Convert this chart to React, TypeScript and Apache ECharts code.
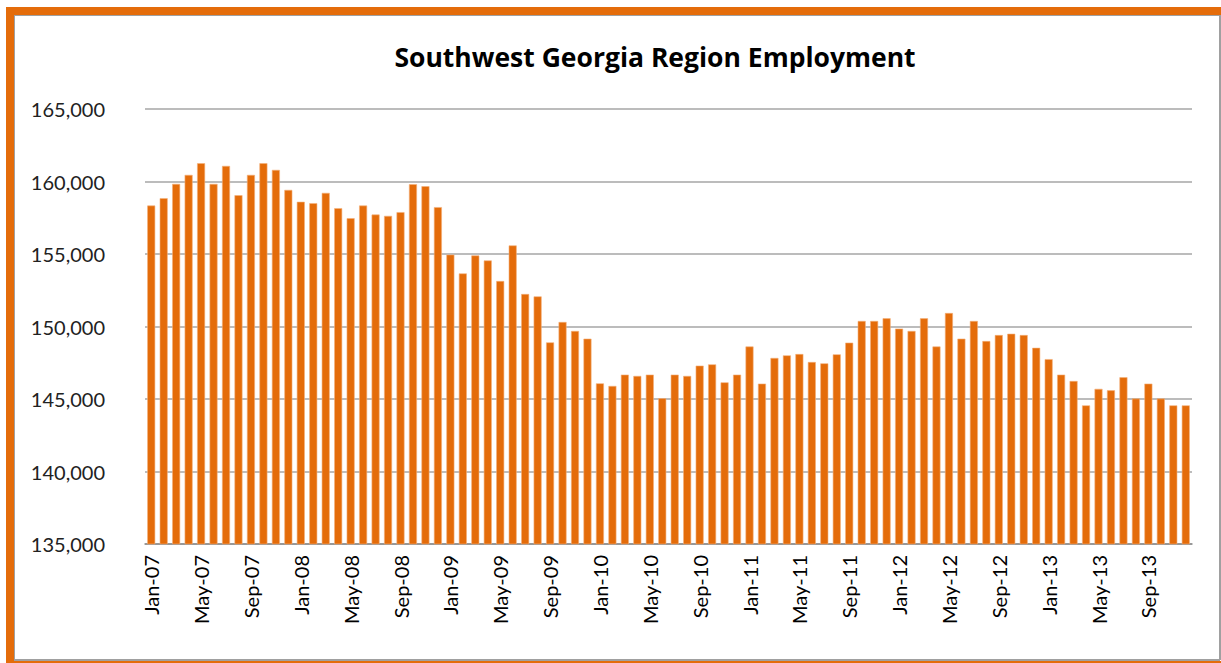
import React, { useEffect, useRef } from "react";
import * as echarts from "echarts";

const years = ["07", "08", "09", "10", "11", "12", "13"];
const monthNames = ["Jan", "Feb", "Mar", "Apr", "May", "Jun", "Jul", "Aug", "Sep", "Oct", "Nov", "Dec"];
const categories: string[] = [];
years.forEach((y) => monthNames.forEach((m) => categories.push(`${m}-${y}`)));

const employment2007 = [158340, 158850, 159835, 160455, 161260, 159835, 161075, 159055, 160455, 161260, 160800, 159420];
const employment2008 = [158600, 158505, 159215, 158160, 157470, 158340, 157720, 157630, 157885, 159815, 159675, 158230];
const employment2009 = [154960, 153660, 154900, 154555, 153135, 155590, 152240, 152075, 148905, 150310, 149690, 149160];
const employment2010 = [146080, 145900, 146680, 146590, 146680, 145050, 146680, 146590, 147300, 147390, 146150, 146680];
const employment2011 = [148620, 146060, 147830, 148010, 148100, 147550, 147460, 148080, 148885, 150380, 150380, 150565];
const employment2012 = [149855, 149690, 150565, 148620, 150930, 149160, 150380, 148995, 149410, 149500, 149410, 148530];
const employment2013 = [147750, 146680, 146240, 144560, 145700, 145600, 146500, 145030, 146060, 145030, 144560, 144560];

const values = [
  ...employment2007,
  ...employment2008,
  ...employment2009,
  ...employment2010,
  ...employment2011,
  ...employment2012,
  ...employment2013,
];

const yMin = 135000;
const yMax = 165000;
const yStep = 5000;

const ORANGE = "#E46C0A";
const FONT = "Lato, 'Open Sans', sans-serif";
const TITLE_FONT = "'Open Sans', Lato, sans-serif";

export default function App() {
  const ref = useRef<HTMLDivElement>(null);

  useEffect(() => {
    if (!ref.current) return;
    const chart = echarts.init(ref.current, undefined, { renderer: "svg" });
    chart.setOption({
      animation: false,
      backgroundColor: "transparent",
      title: {
        text: "Southwest Georgia Region Employment",
        left: 650,
        textAlign: "center",
        top: 38,
        textStyle: { fontFamily: TITLE_FONT, fontSize: 26.5, fontWeight: "bold", color: "#000" },
      },
      grid: { left: 145, right: 29, top: 109, bottom: 119, containLabel: false },
      xAxis: {
        type: "category",
        data: categories,
        axisTick: { show: false },
        axisLine: { lineStyle: { color: "#8c8c8c", width: 1.5 } },
        axisLabel: {
          interval: 3,
          rotate: 90,
          margin: 11,
          fontFamily: FONT,
          fontSize: 20,
          color: "#000",
        },
      },
      yAxis: {
        type: "value",
        min: yMin,
        max: yMax,
        interval: yStep,
        axisLine: { show: false },
        axisTick: { show: false },
        splitLine: { lineStyle: { color: "#a6a6a6", width: 1.5 } },
        axisLabel: {
          margin: 40,
          fontFamily: FONT,
          fontSize: 20,
          color: "#222",
          formatter: (v: number) => v.toLocaleString("en-US"),
        },
      },
      series: [
        {
          type: "bar",
          data: values,
          barCategoryGap: "36%",
          itemStyle: { color: ORANGE, borderColor: "#F3B07A", borderWidth: 0.6 },
        },
      ],
    });
    return () => chart.dispose();
  }, []);

  const box = (s: React.CSSProperties) => <div style={{ position: "absolute", ...s }} />;

  return (
    <div style={{ position: "fixed", left: 0, top: 0, width: 1221, height: 663, background: "#fff", overflow: "hidden" }}>
      {box({ left: 6, top: 7, width: 1215, height: 8, background: ORANGE })}
      {box({ left: 6, top: 7, width: 8, height: 656, background: ORANGE })}
      {box({ left: 6, top: 661, width: 1215, height: 2, background: ORANGE })}
      {box({ left: 14, top: 15, width: 1206, height: 1, background: "#a0a0a0" })}
      {box({ left: 14, top: 15, width: 1, height: 645, background: "#a0a0a0" })}
      {box({ left: 14, top: 659, width: 1206, height: 1.5, background: "#a0a0a0" })}
      {box({ left: 1219, top: 15, width: 1.5, height: 645, background: "#a0a0a0" })}
      <div ref={ref} style={{ position: "absolute", left: 0, top: 0, width: 1221, height: 663 }} />
    </div>
  );
}
